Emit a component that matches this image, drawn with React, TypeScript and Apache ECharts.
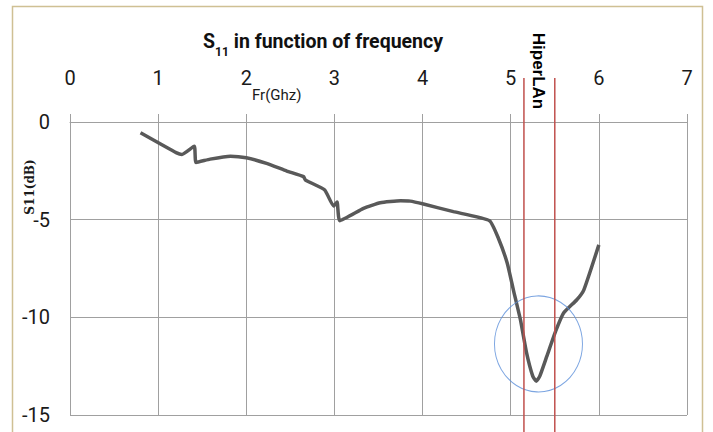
import React, { useEffect, useRef } from "react";
import * as echarts from "echarts";

const freqGHz = [0.8, 1.21, 1.27, 1.41, 1.43, 1.59, 1.82, 2.0, 2.23, 2.46, 2.65, 2.67, 2.89, 2.99, 3.03, 3.06, 3.33, 3.52, 3.75, 3.86, 4.01, 4.35, 4.76, 4.86, 4.96, 5.03, 5.11, 5.18, 5.25, 5.29, 5.33, 5.41, 5.51, 5.6, 5.75, 5.83, 6.0];
const s11dB = [-0.55, -1.58, -1.66, -1.24, -2.07, -1.9, -1.75, -1.83, -2.12, -2.51, -2.8, -2.97, -3.48, -4.3, -4.1, -5.05, -4.42, -4.13, -4.03, -4.05, -4.2, -4.59, -5.05, -5.95, -7.22, -8.59, -10.12, -11.82, -13.01, -13.27, -13.01, -11.99, -10.71, -9.78, -9.1, -8.59, -6.29];
const hiperlanBand = [5.15, 5.5];
const markerCenter = [5.315, -11.36];
const xTicks = [0, 1, 2, 3, 4, 5, 6, 7];
const yTicks = [0, -5, -10, -15];

const FONT = "Roboto, 'Open Sans', sans-serif";

export default function App() {
  const ref = useRef<HTMLDivElement>(null);
  useEffect(() => {
    const chart = echarts.init(ref.current!, null, { renderer: "svg" });
    chart.setOption({
      animation: false,
      backgroundColor: "#ffffff",
      grid: [
        { left: 70, right: 26, top: 122, bottom: 17 },
        { left: 70, right: 26, top: 78, bottom: 0 },
      ],
      xAxis: [
        {
          type: "value",
          position: "top",
          min: xTicks[0],
          max: xTicks[xTicks.length - 1],
          interval: 1,
          gridIndex: 0,
          axisLine: { show: true, lineStyle: { color: "#a0a0a0", width: 1 } },
          axisTick: { show: true, inside: false, length: 8, lineStyle: { color: "#a0a0a0" } },
          axisLabel: { fontFamily: FONT, fontSize: 20, color: "#1a1a1a", margin: 34 },
          splitLine: { show: true, lineStyle: { color: "#a0a0a0", width: 1 } },
        },
        { type: "value", min: 0, max: 7, gridIndex: 1, show: false },
      ],
      yAxis: [
        {
          type: "value",
          min: yTicks[yTicks.length - 1],
          max: yTicks[0],
          interval: 5,
          gridIndex: 0,
          axisLine: { show: true, lineStyle: { color: "#a0a0a0", width: 1 } },
          axisTick: { show: false },
          axisLabel: { fontFamily: FONT, fontSize: 20, color: "#1a1a1a", margin: 20 },
          splitLine: { show: true, lineStyle: { color: "#a0a0a0", width: 1 } },
        },
        { type: "value", min: 0, max: 1, gridIndex: 1, show: false },
      ],
      series: [
        {
          type: "line",
          xAxisIndex: 0,
          yAxisIndex: 0,
          data: freqGHz.map((f, i) => [f, s11dB[i]]),
          showSymbol: false,
          smooth: 0.15,
          lineStyle: { color: "#595959", width: 3.5 },
          z: 5,
        },
        {
          type: "scatter",
          xAxisIndex: 0,
          yAxisIndex: 0,
          data: [markerCenter],
          symbol: "circle",
          symbolSize: [88, 96],
          itemStyle: { color: "rgba(0,0,0,0)", borderColor: "#5b8fd9", borderWidth: 1 },
          z: 6,
        },
        ...hiperlanBand.map((f) => ({
          type: "line",
          xAxisIndex: 1,
          yAxisIndex: 1,
          data: [[f, 0], [f, 1]],
          showSymbol: false,
          lineStyle: { color: "#c0504d", width: 1.5 },
          z: 7,
        })),
      ],
      graphic: [
        {
          type: "rect",
          shape: { x: 12.5, y: 6.5, width: 690, height: 440 },
          style: { fill: "none", stroke: "#cfc094", lineWidth: 1.5 },
          silent: true,
        },
        {
          type: "text",
          x: 203,
          y: 28,
          scaleX: 0.93,
          style: {
            text: "{a|S}{b|11}{a| in function of frequency}",
            rich: {
              a: { fontFamily: FONT, fontSize: 21, fontWeight: "bold", fill: "#111", lineHeight: 26 },
              b: { fontFamily: FONT, fontSize: 13, fontWeight: "bold", fill: "#111", verticalAlign: "bottom", lineHeight: 13, padding: [0, 0, -4, 0] },
            },
          },
        },
        {
          type: "text",
          x: 252,
          y: 87,
          style: { text: "Fr(Ghz)", fontFamily: FONT, fontSize: 15, fill: "#1a1a1a" },
        },
        {
          type: "text",
          x: 30,
          y: 187,
          rotation: Math.PI / 2,
          style: { text: "S11(dB)", fontFamily: "'DejaVu Serif', serif", fontSize: 12, fontWeight: "bold", fill: "#1a1a1a", align: "center", verticalAlign: "middle" },
        },
        {
          type: "text",
          x: 538,
          y: 71,
          rotation: -Math.PI / 2,
          style: { text: "HiperLAn", fontFamily: "'Liberation Sans', sans-serif", fontSize: 17, fontWeight: "bold", fill: "#000", align: "center", verticalAlign: "middle" },
        },
      ],
    });
    return () => chart.dispose();
  }, []);
  return <div ref={ref} style={{ position: "absolute", left: 0, top: 0, width: 713, height: 432 }} />;
}
